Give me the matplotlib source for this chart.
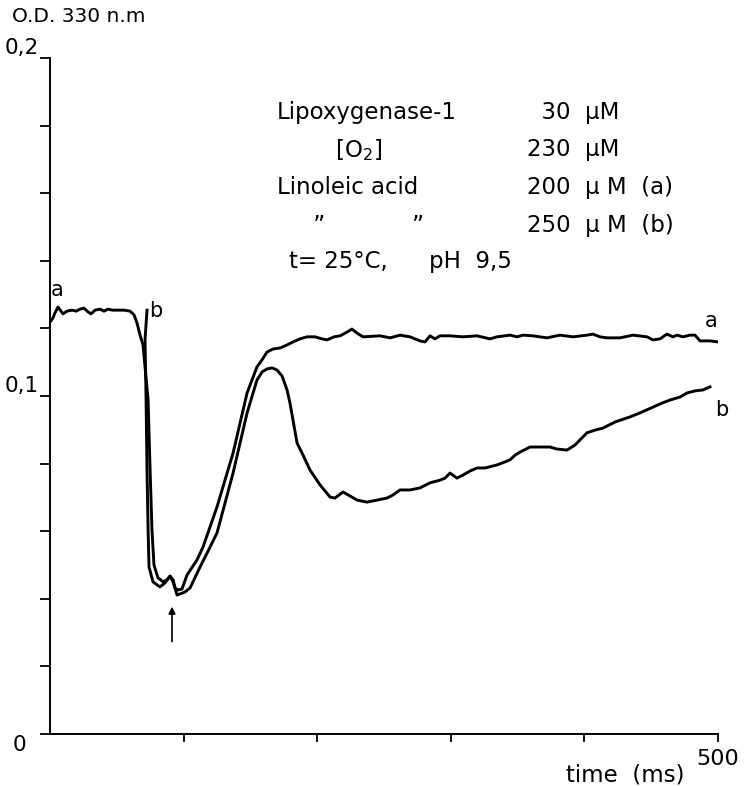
# Stopped-flow trace of lipoxygenase-1 at 330 nm, curves a and b.
import numpy as np
import matplotlib
matplotlib.use("Agg")
import matplotlib.pyplot as plt

# --- data (time in ms, O.D. at 330 nm) ---
t_a = [0, 2.2, 3.7, 6.0, 8.2, 9.7, 12.7, 16.5, 19.5, 22.5, 25.4, 28.4, 30.7, 33.7,
       37.4, 40.4, 43.4, 46.4, 50.9, 55.4, 59.9, 62.9, 65.1, 67.4, 69.6, 73.4, 74.9,
       76.3, 77.8, 80.8, 84.6, 87.6, 89.8, 92.1, 93.6, 95.8, 98.8, 102.5, 110.0,
       114.5, 125.0, 137.0, 147.5, 154.9, 158.7, 162.4, 166.9, 172.2, 177.4, 181.9,
       187.1, 192.4, 198.4, 203.6, 207.3, 212.6, 217.1, 222.3, 226.0, 229.8, 234.3,
       247.0, 254.5, 262.0, 269.5, 276.9, 280.7, 284.4, 288.2, 291.9, 299.4, 309.1,
       319.6, 329.3, 334.6, 344.3, 349.6, 354.0, 361.5, 372.0, 381.7, 391.5, 401.9,
       406.4, 411.7, 416.9, 426.6, 436.4, 446.9, 451.3, 456.6, 461.8, 466.3, 469.3,
       473.8, 479.0, 482.8, 486.5, 494.0, 500.0]
od_a = [0.1219, 0.1231, 0.1246, 0.1263, 0.1251, 0.1243, 0.1251, 0.1254, 0.1251,
        0.1257, 0.1260, 0.1249, 0.1243, 0.1254, 0.1257, 0.1251, 0.1257, 0.1254,
        0.1254, 0.1254, 0.1251, 0.1240, 0.1216, 0.1180, 0.1151, 0.0988, 0.0781,
        0.0604, 0.0500, 0.0462, 0.0450, 0.0456, 0.0467, 0.0456, 0.0432, 0.0426,
        0.0429, 0.0470, 0.0515, 0.0553, 0.0672, 0.0831, 0.1009, 0.1086, 0.1107,
        0.1130, 0.1139, 0.1142, 0.1151, 0.1160, 0.1169, 0.1175, 0.1175, 0.1169,
        0.1166, 0.1175, 0.1178, 0.1189, 0.1198, 0.1186, 0.1175, 0.1178, 0.1172,
        0.1180, 0.1175, 0.1163, 0.1160, 0.1178, 0.1169, 0.1178, 0.1178, 0.1175,
        0.1178, 0.1169, 0.1175, 0.1180, 0.1175, 0.1180, 0.1178, 0.1172, 0.1180,
        0.1175, 0.1180, 0.1183, 0.1175, 0.1172, 0.1172, 0.1180, 0.1175, 0.1166,
        0.1169, 0.1183, 0.1175, 0.1180, 0.1175, 0.1180, 0.1180, 0.1163, 0.1163,
        0.1160]

t_b = [72.6, 71.1, 71.9, 72.6, 73.4, 74.1, 77.1, 82.3, 86.1, 89.8, 92.1, 95.1,
       101.0, 104.8, 112.3, 119.8, 125.0, 137.0, 147.5, 154.9, 158.7, 162.4, 166.2,
       169.9, 173.7, 177.4, 179.6, 184.9, 189.4, 194.6, 202.1, 209.6, 213.3, 219.3,
       224.6, 229.8, 237.3, 244.8, 252.2, 256.7, 262.0, 269.5, 276.9, 284.4, 291.9,
       295.7, 299.4, 304.6, 309.1, 314.4, 319.6, 325.6, 334.6, 340.6, 344.3, 348.1,
       351.8, 359.3, 366.8, 374.3, 379.5, 387.0, 393.0, 401.9, 407.9, 413.9, 422.9,
       434.1, 441.6, 451.3, 458.1, 464.1, 471.6, 476.9, 482.8, 488.8, 494.0]
od_b = [0.1254, 0.1166, 0.0988, 0.0781, 0.0604, 0.0494, 0.0450, 0.0435, 0.0447,
        0.0467, 0.0450, 0.0411, 0.0420, 0.0432, 0.0494, 0.0553, 0.0595, 0.0772,
        0.0950, 0.1047, 0.1071, 0.1080, 0.1083, 0.1077, 0.1059, 0.1018, 0.0979,
        0.0861, 0.0825, 0.0781, 0.0737, 0.0701, 0.0698, 0.0716, 0.0704, 0.0692,
        0.0686, 0.0692, 0.0698, 0.0707, 0.0722, 0.0722, 0.0728, 0.0743, 0.0751,
        0.0757, 0.0772, 0.0757, 0.0766, 0.0778, 0.0787, 0.0787, 0.0796, 0.0805,
        0.0811, 0.0825, 0.0834, 0.0849, 0.0849, 0.0849, 0.0843, 0.0840, 0.0855,
        0.0891, 0.0899, 0.0905, 0.0923, 0.0938, 0.0950, 0.0967, 0.0979, 0.0988,
        0.0997, 0.1009, 0.1015, 0.1018, 0.1027]

y_ticks = [0.0, 0.02, 0.04, 0.06, 0.08, 0.1, 0.12, 0.14, 0.16, 0.18, 0.2]
y_ticklabels = ["", "", "", "", "", "0,1", "", "", "", "", "0,2"]
x_ticks = [100, 200, 300, 400, 500]
x_ticklabels = ["", "", "", "", "500"]

conditions = [
    ("Lipoxygenase-1", "  30  \u00b5M"),
    ("        [O$_2$]", "230  \u00b5M"),
    ("Linoleic acid", "200  \u00b5 M  (a)"),
    ("     \u201d            \u201d", "250  \u00b5 M  (b)"),
]

fig = plt.figure(figsize=(7.49, 7.86), dpi=100)
ax = fig.add_axes([0.0668, 0.0662, 0.8918, 0.86])

ax.plot(t_a, od_a, color="black", lw=2.1, solid_joinstyle="round")
ax.plot(t_b, od_b, color="black", lw=2.1, solid_joinstyle="round")

ax.set_xlim(0, 500)
ax.set_ylim(0, 0.2)
for s in ("top", "right"):
    ax.spines[s].set_visible(False)
for s in ("left", "bottom"):
    ax.spines[s].set_linewidth(1.4)

ax.set_yticks(y_ticks)
ax.set_yticklabels(y_ticklabels, fontsize=15.5)
ax.set_xticks(x_ticks)
ax.set_xticklabels(x_ticklabels, fontsize=16)
ax.tick_params(axis="y", direction="out", length=7, width=1.3, pad=1)
ax.tick_params(axis="x", direction="out", length=6, width=1.3, pad=5)
for lab in ax.get_yticklabels():
    lab.set_verticalalignment("bottom")

# curve labels
ax.text(5.5, 0.1283, "a", fontsize=15, ha="center", va="bottom")
ax.text(79, 0.1222, "b", fontsize=15, ha="center", va="bottom")
ax.text(495, 0.1193, "a", fontsize=15, ha="center", va="bottom")
ax.text(503, 0.0930, "b", fontsize=15, ha="center", va="bottom")

# arrow marking the dip
ax.annotate("", xy=(91.3, 0.0385), xytext=(91.3, 0.0265),
            arrowprops=dict(arrowstyle="-|>", color="black", lw=1.2,
                            mutation_scale=10))

# condition block
y0 = 0.184
dy = 0.0112
fs = 16.5
for i, (name, conc) in enumerate(conditions):
    ax.text(170, y0 - i * dy, name, fontsize=fs, va="center", ha="left")
    ax.text(357, y0 - i * dy, conc, fontsize=fs, va="center", ha="left")
ax.text(179, y0 - 4 * dy + 0.0005, "t= 25\u00b0C,", fontsize=fs, va="center")
ax.text(284, y0 - 4 * dy + 0.0005, "pH  9,5", fontsize=fs, va="center")

fig.text(12 / 749, 1 - 17 / 786, "O.D. 330 n.m", fontsize=14.5, va="center", ha="left")
fig.text(19 / 749, 1 - 745 / 786, "0", fontsize=15.5, va="center", ha="center")
fig.text(625 / 749, 1 - 775 / 786, "time  (ms)", fontsize=16.5, va="center", ha="center")

fig.savefig("out.png", dpi=100)
